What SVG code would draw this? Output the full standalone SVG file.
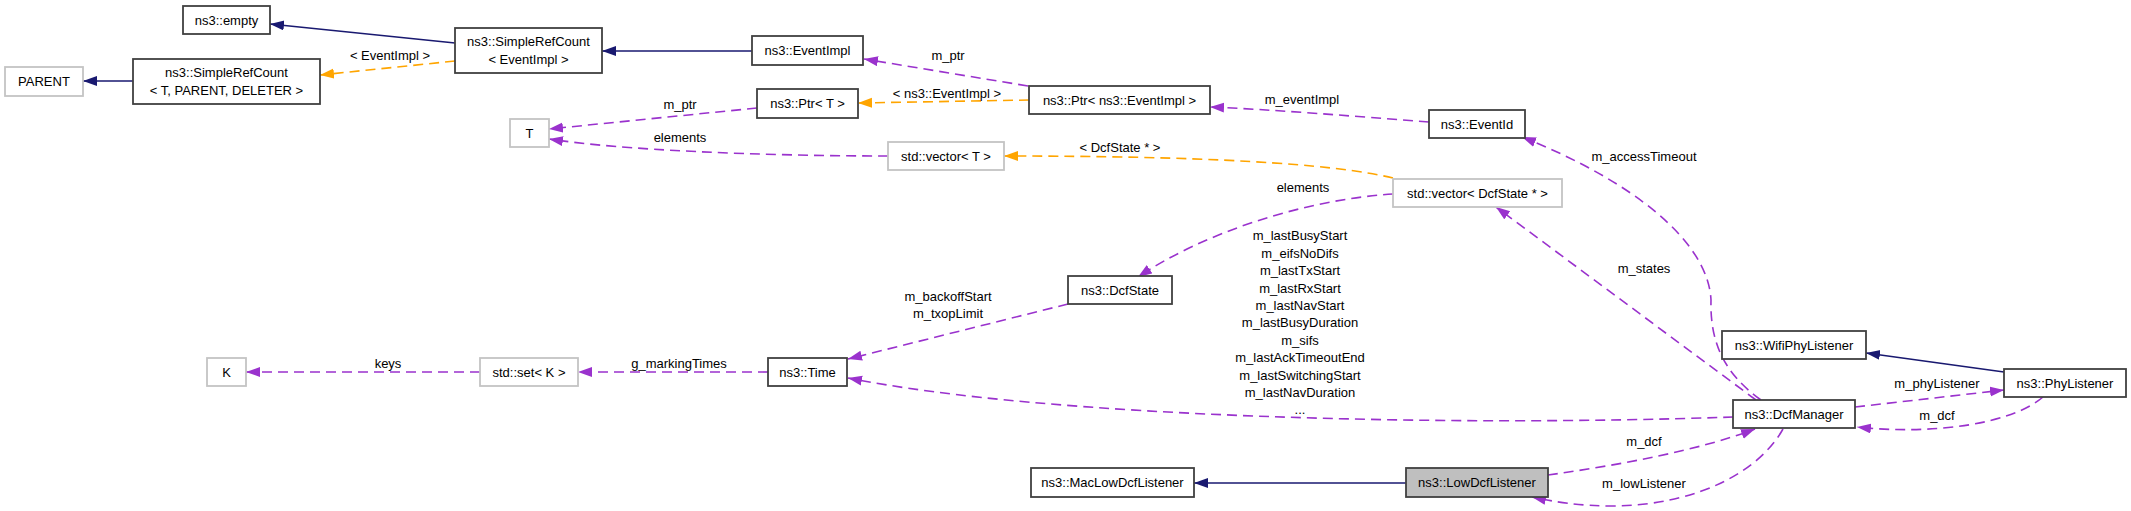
<svg xmlns="http://www.w3.org/2000/svg" width="2131" height="511" viewBox="0 0 2131 511">
<defs>
<style>
.n rect{fill:#fff;stroke:#404040;stroke-width:1.8}
.n.g rect{stroke:#c4c4c4}
.n.h rect{fill:#bfbfbf}
text{font-family:"Liberation Sans",Arial,sans-serif;font-size:13px;fill:#000;text-anchor:middle}
.e path{fill:none;stroke-width:1.6}
.b{stroke:#191970}
.o{stroke:#ffa500;stroke-dasharray:10,6}
.p{stroke:#9a32cd;stroke-dasharray:10,6}
</style>
<marker id="mb" markerUnits="userSpaceOnUse" markerWidth="15" markerHeight="11" refX="14" refY="5" orient="auto"><path d="M0,0 L14,5 L0,10 z" fill="#191970"/></marker>
<marker id="mo" markerUnits="userSpaceOnUse" markerWidth="15" markerHeight="11" refX="14" refY="5" orient="auto"><path d="M0,0 L14,5 L0,10 z" fill="#ffa500"/></marker>
<marker id="mp" markerUnits="userSpaceOnUse" markerWidth="15" markerHeight="11" refX="14" refY="5" orient="auto"><path d="M0,0 L14,5 L0,10 z" fill="#9a32cd"/></marker>
</defs>
<rect width="2131" height="511" fill="#fff"/>
<g id="edges" class="e">
<path class="b" marker-end="url(#mb)" d="M455,43 L270,24"/>
<path class="b" marker-end="url(#mb)" d="M752,51 L602,51"/>
<path class="b" marker-end="url(#mb)" d="M133,81 L83,81"/>
<path class="b" marker-end="url(#mb)" d="M2004,372 L1866,353"/>
<path class="b" marker-end="url(#mb)" d="M1406,483 L1194,483"/>
<path class="o" marker-end="url(#mo)" d="M455,61 L320,75"/>
<path class="o" marker-end="url(#mo)" d="M1029,100 L858,103"/>
<path class="o" marker-end="url(#mo)" d="M1393,178 C1330,163 1200,156 1004,156"/>
<path class="p" marker-end="url(#mp)" d="M757,108 L549,129"/>
<path class="p" marker-end="url(#mp)" d="M888,156 C760,156 620,150 549,139"/>
<path class="p" marker-end="url(#mp)" d="M1028,86 L864,59"/>
<path class="p" marker-end="url(#mp)" d="M1429,122 C1350,116 1280,110 1210,107"/>
<path class="p" marker-end="url(#mp)" d="M1761,400 C1722,372 1710,340 1711,300 C1708,240 1630,180 1522,137"/>
<path class="p" marker-end="url(#mp)" d="M1756,400 L1496,207"/>
<path class="p" marker-end="url(#mp)" d="M1393,194 C1300,200 1200,235 1138,277"/>
<path class="p" marker-end="url(#mp)" d="M1068,304 L848,359"/>
<path class="p" marker-end="url(#mp)" d="M1733,417 C1450,427 1050,418 848,378"/>
<path class="p" marker-end="url(#mp)" d="M480,372 L246,372"/>
<path class="p" marker-end="url(#mp)" d="M768,372 L578,372"/>
<path class="p" marker-end="url(#mp)" d="M1855,407 L2004,390"/>
<path class="p" marker-end="url(#mp)" d="M2043,397 C2010,425 1930,435 1857,427"/>
<path class="p" marker-end="url(#mp)" d="M1548,475 C1620,465 1700,450 1755,429"/>
<path class="p" marker-end="url(#mp)" d="M1783,429 C1760,470 1700,505 1613,506 C1580,506 1555,502 1532,497"/>
<text x="390" y="60">&lt; EventImpl &gt;</text>
<text x="947" y="98">&lt; ns3::EventImpl &gt;</text>
<text x="1120" y="152">&lt; DcfState * &gt;</text>
<text x="680" y="109">m_ptr</text>
<text x="680" y="142">elements</text>
<text x="948" y="60">m_ptr</text>
<text x="1302" y="104">m_eventImpl</text>
<text x="1644" y="161">m_accessTimeout</text>
<text x="1644" y="273">m_states</text>
<text x="1303" y="192">elements</text>
<text x="948" y="301">m_backoffStart</text>
<text x="948" y="318">m_txopLimit</text>
<text x="1300" y="240">m_lastBusyStart</text>
<text x="1300" y="258">m_eifsNoDifs</text>
<text x="1300" y="275">m_lastTxStart</text>
<text x="1300" y="293">m_lastRxStart</text>
<text x="1300" y="310">m_lastNavStart</text>
<text x="1300" y="327">m_lastBusyDuration</text>
<text x="1300" y="345">m_sifs</text>
<text x="1300" y="362">m_lastAckTimeoutEnd</text>
<text x="1300" y="380">m_lastSwitchingStart</text>
<text x="1300" y="397">m_lastNavDuration</text>
<text x="1300" y="414">...</text>
<text x="388" y="368">keys</text>
<text x="679" y="368">g_markingTimes</text>
<text x="1937" y="388">m_phyListener</text>
<text x="1937" y="420">m_dcf</text>
<text x="1644" y="446">m_dcf</text>
<text x="1644" y="488">m_lowListener</text>
</g>
<g id="n_empty" class="n"><rect x="183" y="6" width="87" height="28"/><text x="226.5" y="24.5">ns3::empty</text></g>
<g id="n_src_eventimpl" class="n"><rect x="455" y="28" width="147" height="45"/><text x="528.5" y="46">ns3::SimpleRefCount</text><text x="528.5" y="64">&lt; EventImpl &gt;</text></g>
<g id="n_parent" class="n g"><rect x="5" y="67" width="78" height="29"/><text x="44" y="86">PARENT</text></g>
<g id="n_src_t" class="n"><rect x="133" y="59" width="187" height="45"/><text x="226.5" y="77">ns3::SimpleRefCount</text><text x="226.5" y="95">&lt; T, PARENT, DELETER &gt;</text></g>
<g id="n_t" class="n g"><rect x="510" y="119" width="39" height="28"/><text x="529.5" y="137.5">T</text></g>
<g id="n_eventimpl" class="n"><rect x="752" y="36" width="111" height="29"/><text x="807.5" y="55">ns3::EventImpl</text></g>
<g id="n_ptr_t" class="n"><rect x="757" y="89" width="101" height="29"/><text x="807.5" y="108">ns3::Ptr&lt; T &gt;</text></g>
<g id="n_ptr_eventimpl" class="n"><rect x="1029" y="86" width="181" height="28"/><text x="1119.5" y="104.5">ns3::Ptr&lt; ns3::EventImpl &gt;</text></g>
<g id="n_vector_t" class="n g"><rect x="888" y="142" width="116" height="28"/><text x="946" y="160.5">std::vector&lt; T &gt;</text></g>
<g id="n_eventid" class="n"><rect x="1429" y="110" width="96" height="28"/><text x="1477" y="128.5">ns3::EventId</text></g>
<g id="n_vector_dcfstate" class="n g"><rect x="1393" y="179" width="169" height="28"/><text x="1477.5" y="197.5">std::vector&lt; DcfState * &gt;</text></g>
<g id="n_dcfstate" class="n"><rect x="1068" y="276" width="104" height="28"/><text x="1120" y="294.5">ns3::DcfState</text></g>
<g id="n_k" class="n g"><rect x="207" y="358" width="39" height="28"/><text x="226.5" y="376.5">K</text></g>
<g id="n_set_k" class="n g"><rect x="480" y="358" width="98" height="28"/><text x="529" y="376.5">std::set&lt; K &gt;</text></g>
<g id="n_time" class="n"><rect x="768" y="358" width="79" height="28"/><text x="807.5" y="376.5">ns3::Time</text></g>
<g id="n_wifiphylistener" class="n"><rect x="1722" y="331" width="144" height="28"/><text x="1794" y="349.5">ns3::WifiPhyListener</text></g>
<g id="n_phylistener" class="n"><rect x="2004" y="369" width="122" height="28"/><text x="2065" y="387.5">ns3::PhyListener</text></g>
<g id="n_dcfmanager" class="n"><rect x="1733" y="400" width="122" height="28"/><text x="1794" y="418.5">ns3::DcfManager</text></g>
<g id="n_maclowdcflistener" class="n"><rect x="1031" y="468" width="163" height="29"/><text x="1112.5" y="487">ns3::MacLowDcfListener</text></g>
<g id="n_lowdcflistener" class="n h"><rect x="1406" y="468" width="142" height="29"/><text x="1477" y="487">ns3::LowDcfListener</text></g>
</svg>
